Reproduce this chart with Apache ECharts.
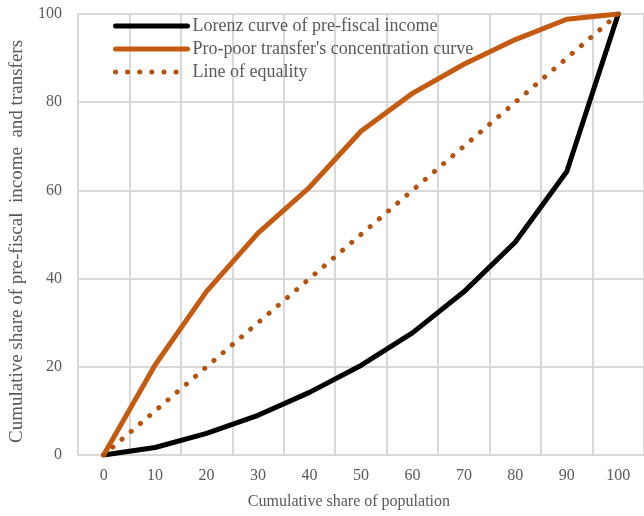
<!DOCTYPE html>
<html><head><meta charset="utf-8">
<script src="https://cdn.jsdelivr.net/npm/echarts@6/dist/echarts.min.js"></script>
<style>html,body{margin:0;padding:0;background:#fff}#c{width:644px;height:516px}</style>
</head><body><div id="c"></div>
<script>
const categories = ['0','10','20','30','40','50','60','70','80','90','100'];
const lorenz = [0, 1.7, 4.9, 9.0, 14.2, 20.3, 27.7, 37.0, 48.3, 64.3, 100];
const propoor = [0, 20.4, 37.1, 50.3, 60.7, 73.4, 82.0, 88.6, 94.2, 98.8, 100];
const equality = [0, 10, 20, 30, 40, 50, 60, 70, 80, 90, 100];
const seriesNames = ['Lorenz curve of pre-fiscal income', "Pro-poor transfer's concentration curve", 'Line of equality'];
const yTicks = {min: 0, max: 100, interval: 20};

const FONT = '"Liberation Serif", "DejaVu Serif", serif';
const TXT = '#595959';
const GRID = '#d9d9d9';
const chart = echarts.init(document.getElementById('c'), null, {renderer: 'canvas'});
chart.setOption({
  animation: false,
  textStyle: {fontFamily: FONT},
  grid: {left: 76, right: -4, top: 14, bottom: 61, containLabel: false},
  legend: {
    orient: 'vertical', left: 108, top: 12, itemWidth: 72, itemHeight: 14, itemGap: 5,
    textStyle: {fontFamily: FONT, fontSize: 18, color: TXT},
    itemStyle: {opacity: 0},
    lineStyle: {width: 5},
    data: seriesNames
  },
  xAxis: {
    type: 'category', data: categories, boundaryGap: true,
    name: 'Cumulative share of population', nameLocation: 'middle', nameGap: 39,
    nameTextStyle: {fontFamily: FONT, fontSize: 16, color: TXT, padding: [0, 24, 0, 0]},
    axisLine: {show: true, lineStyle: {color: GRID, width: 2}},
    axisTick: {show: false},
    axisLabel: {fontFamily: FONT, fontSize: 16, color: TXT, margin: 13},
    splitLine: {show: true, lineStyle: {color: GRID, width: 2}}
  },
  yAxis: {
    type: 'value', min: yTicks.min, max: yTicks.max, interval: yTicks.interval,
    name: 'Cumulative share of pre-fiscal  income  and transfers', nameLocation: 'middle', nameGap: 45,
    nameTextStyle: {fontFamily: FONT, fontSize: 19, color: TXT, padding: [0, 14, 0, 0]},
    axisLine: {show: false}, axisTick: {show: false},
    axisLabel: {fontFamily: FONT, fontSize: 16, color: TXT, margin: 16},
    splitLine: {show: true, lineStyle: {color: GRID, width: 2}}
  },
  series: [
    {name: seriesNames[0], type: 'line', data: lorenz, symbol: 'none',
     lineStyle: {color: '#000000', width: 5, cap: 'round', join: 'round'}, itemStyle: {color: '#000000'}},
    {name: seriesNames[1], type: 'line', data: propoor, symbol: 'none',
     lineStyle: {color: '#C55A11', width: 5, cap: 'round', join: 'round'}, itemStyle: {color: '#C55A11'}},
    {name: seriesNames[2], type: 'line', data: equality, symbol: 'none',
     lineStyle: {color: '#B4520F', width: 5, type: [0.1, 12], cap: 'round'}, itemStyle: {color: '#B4520F'}}
  ]
});
</script></body></html>
